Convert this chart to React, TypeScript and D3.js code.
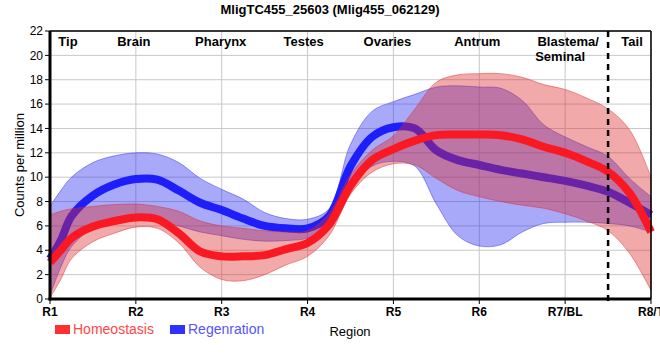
import React from "react";
import * as d3 from "d3";

const W = 660;
const H = 360;
const margin = { top: 31, right: 9, bottom: 61, left: 50 };

// region ticks along x
const regions = ["R1", "R2", "R3", "R4", "R5", "R6", "R7/BL", "R8/T"];
const tissues = ["Tip", "Brain", "Pharynx", "Testes", "Ovaries", "Antrum", "Blastema/", "Tail"];
const yTicks = [0, 2, 4, 6, 8, 10, 12, 14, 16, 18, 20, 22];

// positions (in region units) where the curves were read
const pos = [1, 1.125, 1.25, 1.5, 1.75, 2, 2.25, 2.5, 2.75, 3, 3.25, 3.5, 3.75, 4, 4.25, 4.5, 4.75, 5, 5.25, 5.5, 5.75, 6, 6.25, 6.5, 6.75, 7, 7.25, 7.5, 7.75, 8];

// Homeostasis
const homeoMean = [3.0, 4.0, 5.0, 5.95, 6.4, 6.7, 6.55, 5.4, 3.9, 3.5, 3.5, 3.6, 4.1, 4.6, 6.1, 9.3, 11.4, 12.3, 13.0, 13.45, 13.5, 13.5, 13.45, 13.1, 12.5, 12.0, 11.3, 10.45, 8.7, 5.5];
const homeoHigh = [6.9, 7.2, 7.4, 7.6, 7.75, 7.8, 7.6, 7.2, 6.4, 6.0, 5.8, 5.6, 5.5, 5.6, 7.0, 10.2, 12.2, 13.4, 15.6, 17.8, 18.4, 18.5, 18.5, 18.2, 17.6, 17.2, 16.5, 15.6, 13.9, 10.0];
const homeoLow = [0.1, 1.6, 3.3, 4.7, 5.4, 5.9, 5.8, 4.6, 2.6, 1.6, 1.5, 2.0, 2.8, 3.5, 5.2, 8.6, 10.4, 11.1, 11.0, 9.9, 8.9, 8.4, 8.0, 7.7, 7.45, 7.0, 6.4, 5.6, 3.75, 0.7];

// Regeneration
const regenMean = [3.3, 4.8, 6.8, 8.5, 9.4, 9.85, 9.8, 8.9, 7.9, 7.3, 6.6, 6.0, 5.8, 5.8, 6.8, 10.9, 13.3, 14.1, 14.0, 12.2, 11.4, 11.0, 10.6, 10.3, 10.0, 9.7, 9.3, 8.8, 7.9, 6.9];
const regenHigh = [7.6, 8.9, 10.0, 11.2, 11.75, 12.0, 11.9, 11.2, 9.9, 9.0, 8.2, 7.1, 6.6, 6.55, 7.4, 12.7, 15.4, 16.2, 16.8, 17.4, 17.5, 17.4, 17.3, 16.3, 14.3, 13.3, 12.5, 11.7, 9.9, 8.4];
const regenLow = [0.3, 2.6, 4.3, 5.8, 6.3, 6.5, 6.4, 6.0, 5.5, 5.2, 4.9, 4.75, 4.8, 5.0, 6.0, 9.2, 10.9, 11.3, 10.9, 7.8, 5.2, 4.35, 4.45, 5.5, 6.2, 6.3, 6.3, 6.2, 6.0, 5.5];

const font = "'Liberation Sans', Arial, sans-serif";
const curve = d3.curveCatmullRom.alpha(0.5);

export default function App() {
  const x = d3.scaleLinear().domain([1, 8]).range([margin.left, W - margin.right]);
  const y = d3.scaleLinear().domain([0, 22]).range([H - margin.bottom, margin.top]);

  const band = (hi: number[], lo: number[]) =>
    d3
      .area<number>()
      .x((d) => x(d))
      .y0((_, i) => y(lo[i]))
      .y1((_, i) => y(hi[i]))
      .curve(curve)(pos) as string;

  const line = (vals: number[]) =>
    d3
      .line<number>()
      .x((d) => x(d))
      .y((_, i) => y(vals[i]))
      .curve(curve)(pos) as string;

  const x0 = margin.left;
  const x1 = W - margin.right;
  const y0 = H - margin.bottom;
  const y1 = margin.top;

  return (
    <svg width={W} height={H} style={{ position: "absolute", left: 0, top: 0 }} fontFamily={font}>
      <rect width={W} height={H} fill="#fff" />
      <text x={W / 2} y={14} textAnchor="middle" fontSize={13} fontWeight="bold">
        MligTC455_25603 (Mlig455_062129)
      </text>

      {/* grid */}
      {yTicks.map((t) => (
        <line key={"gy" + t} x1={x0} x2={x1} y1={y(t)} y2={y(t)} stroke="#c8c8c8" />
      ))}
      {regions.map((r, i) => (
        <line key={"gx" + r} x1={x(i + 1)} x2={x(i + 1)} y1={y1} y2={y0} stroke="#c8c8c8" />
      ))}

      {/* regeneration */}
      <path d={band(regenHigh, regenLow)} fill="rgb(40,40,240)" fillOpacity={0.4} stroke="rgb(40,40,240)" strokeOpacity={0.45} strokeWidth={1} />
      <path d={line(regenMean)} fill="none" stroke="rgb(30,30,250)" strokeWidth={8} />

      {/* homeostasis */}
      <path d={band(homeoHigh, homeoLow)} fill="rgb(220,40,40)" fillOpacity={0.4} stroke="rgb(220,40,40)" strokeOpacity={0.45} strokeWidth={1} />
      <path d={line(homeoMean)} fill="none" stroke="rgb(250,25,35)" strokeWidth={8} />

      {/* frame */}
      <line x1={x0} x2={x1} y1={y1} y2={y1} stroke="#000" strokeWidth={1.5} />
      <line x1={x1} x2={x1} y1={y1} y2={y0} stroke="#000" strokeWidth={1.5} />
      <line x1={x(7.5)} x2={x(7.5)} y1={y1} y2={y0 + 5} stroke="#000" strokeWidth={2.5} strokeDasharray="6,5" />
      <line x1={x0} x2={x0} y1={y1} y2={y0 + 1.5} stroke="#000" strokeWidth={3} />
      <line x1={x0 - 1.5} x2={x1} y1={y0} y2={y0} stroke="#000" strokeWidth={3} />

      {/* y axis */}
      {yTicks.map((t) => (
        <g key={"yt" + t}>
          <line x1={x0 - 5} x2={x0} y1={y(t)} y2={y(t)} stroke="#000" />
          <text x={x0 - 7} y={y(t)} dy="0.35em" textAnchor="end" fontSize={12}>
            {t}
          </text>
        </g>
      ))}
      <text transform={`translate(24,${(y0 + y1) / 2}) rotate(-90)`} textAnchor="middle" fontSize={13}>
        Counts per million
      </text>

      {/* x axis */}
      {regions.map((r, i) => (
        <g key={"xt" + r}>
          <line x1={x(i + 1)} x2={x(i + 1)} y1={y0} y2={y0 + 5} stroke="#000" />
          <text x={x(i + 1)} y={y0 + 17} textAnchor="middle" fontSize={12} fontWeight="bold">
            {r}
          </text>
        </g>
      ))}

      {/* tissue labels */}
      {tissues.map((t, i) => {
        const cx = [x(1) + 18, x(2) - 2, x(3) - 1, x(4) - 4, x(5) - 6, x(6) - 2, x(7) + 3, x(7.5) + 24][i];
        return (
          <text key={"tl" + t} x={cx} y={y1 + 15} textAnchor="middle" fontSize={13} fontWeight="bold">
            {t}
            {i === 6 && (
              <tspan x={cx - 8} dy={15}>
                Seminal
              </tspan>
            )}
          </text>
        );
      })}

      {/* legend */}
      <rect x={55} y={325} width={15} height={9} fill="#ff3030" />
      <text x={73} y={334} fontSize={14} fill="#ff4545">
        Homeostasis
      </text>
      <rect x={170} y={325} width={15} height={9} fill="#3030ff" />
      <text x={188} y={334} fontSize={14} fill="#5555ff">
        Regenration
      </text>
      <text x={350} y={336} textAnchor="middle" fontSize={13}>
        Region
      </text>
    </svg>
  );
}
